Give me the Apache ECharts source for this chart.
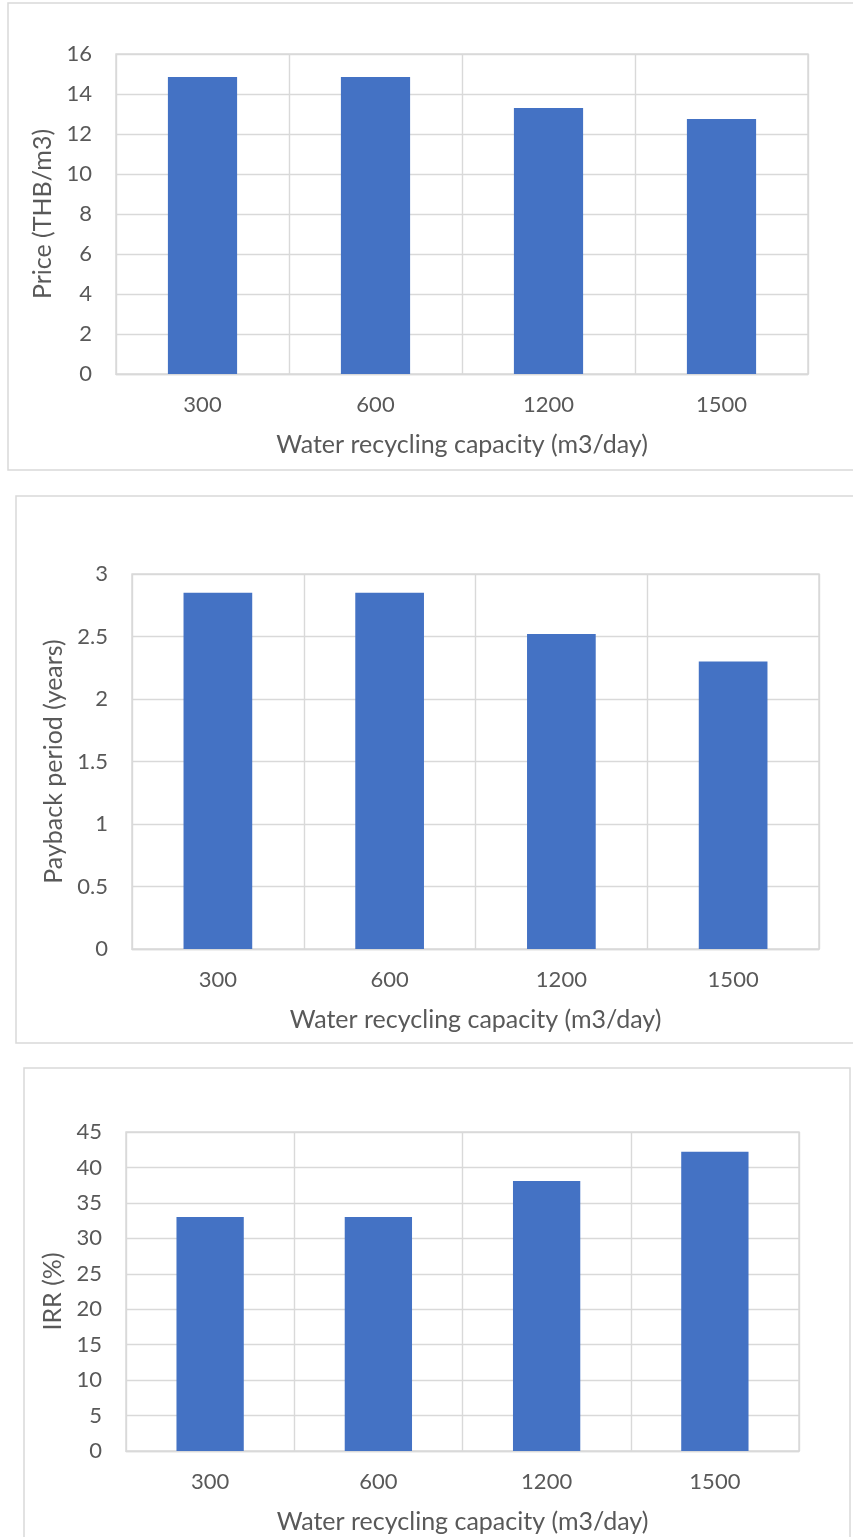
<!DOCTYPE html>
<html>
<head>
<meta charset="utf-8">
<script src="https://cdn.jsdelivr.net/npm/echarts@6/dist/echarts.min.js"></script>
<style>
html,body{margin:0;padding:0;background:#fff;}
#c{width:853px;height:1537px;}
</style>
</head>
<body>
<div id="c"></div>
<script>
const categories = ['300', '600', '1200', '1500'];
const priceValues = [14.85, 14.85, 13.3, 12.75];
const paybackValues = [2.85, 2.85, 2.52, 2.3];
const irrValues = [33, 33, 38.1, 42.2];

const xTitle = 'Water recycling capacity (m3/day)';
const yTitles = ['Price (THB/m3)', 'Payback period (years)', 'IRR (%)'];

const FONT = 'Lato';
const TXT = '#595959';
const GRID = '#D9D9D9';
const BAR = '#4472C4';
const TICK_FS = 22;
const TITLE_FS = 25;

const grids = [
  {left: 116, top: 54, width: 692, height: 320},
  {left: 132, top: 574, width: 687, height: 375},
  {left: 126, top: 1132, width: 673, height: 319}
];
const yAxes = [
  {max: 16, interval: 2, nameGap: 57},
  {max: 3, interval: 0.5, nameGap: 64},
  {max: 45, interval: 5, nameGap: 53}
];
const dataSets = [priceValues, paybackValues, irrValues];

const option = {
  backgroundColor: '#fff',
  animation: false,
  grid: grids.map(g => Object.assign({show: true, borderColor: GRID, borderWidth: 1.4, containLabel: false}, g)),
  xAxis: grids.map((g, i) => ({
    type: 'category', gridIndex: i, data: categories,
    axisLine: {show: true, lineStyle: {color: GRID, width: 1.4}},
    axisTick: {show: false},
    splitLine: {show: true, lineStyle: {color: GRID, width: 1.4}},
    axisLabel: {color: TXT, fontFamily: FONT, fontSize: TICK_FS, margin: 20},
    name: xTitle, nameLocation: 'middle', nameGap: 58,
    nameTextStyle: {color: TXT, fontFamily: FONT, fontSize: TITLE_FS}
  })),
  yAxis: yAxes.map((a, i) => ({
    type: 'value', gridIndex: i, min: 0, max: a.max, interval: a.interval,
    axisLine: {show: false}, axisTick: {show: false},
    splitLine: {show: true, lineStyle: {color: GRID, width: 1.4}},
    axisLabel: {color: TXT, fontFamily: FONT, fontSize: TICK_FS, margin: 24},
    name: yTitles[i], nameLocation: 'middle', nameGap: a.nameGap,
    nameTextStyle: {color: TXT, fontFamily: FONT, fontSize: TITLE_FS}
  })),
  series: dataSets.map((d, i) => ({
    type: 'bar', xAxisIndex: i, yAxisIndex: i, data: d,
    barWidth: '40%',
    itemStyle: {color: BAR}
  })),
  graphic: [
    {type: 'rect', shape: {x: 8, y: 3, width: 870, height: 467}, style: {fill: null, stroke: GRID, lineWidth: 1.5}, z: -1},
    {type: 'rect', shape: {x: 16, y: 496, width: 870, height: 547}, style: {fill: null, stroke: GRID, lineWidth: 1.5}, z: -1},
    {type: 'rect', shape: {x: 24, y: 1068, width: 826, height: 500}, style: {fill: null, stroke: GRID, lineWidth: 1.5}, z: -1}
  ]
};

const chart = echarts.init(document.getElementById('c'), null, {renderer: 'canvas'});
chart.setOption(option);
</script>
</body>
</html>
